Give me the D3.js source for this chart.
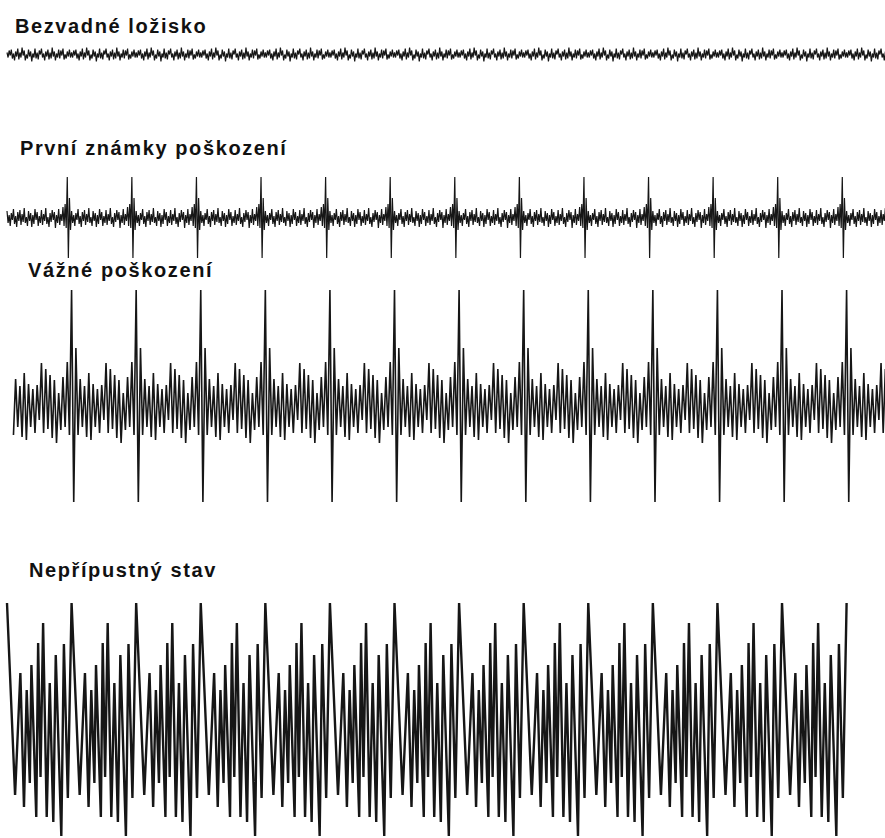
<!DOCTYPE html>
<html>
<head>
<meta charset="utf-8">
<script src="https://cdn.jsdelivr.net/npm/d3@7"></script>
<style>
  body { margin: 0; background: #fff; }
  .title { font-family: "Liberation Sans", Arial, sans-serif; font-weight: bold; font-size: 20px; letter-spacing: 1.6px; fill: #111; }
</style>
</head>
<body>
<svg id="chart" width="885" height="838"></svg>
<script>
// panel titles
const titles = ["Bezvadné ložisko", "První známky poškození", "Vážné poškození", "Nepřípustný stav"];

// one bearing revolution of each signal (panels 1-2: 60 samples, panel 3: 30 samples)
const cycle1 = [2, -3, 4, -1, 5, -4, 1, -6, 3, -2, 6, -5, 2, -3, 7, -1, 4, -6, 0, -4, 5, -2, 3, -7, 1, -3, 6, -4, 2, -5,
                4, 0, 6, -3, 1, -6, 3, -2, 5, -5, 2, -4, 7, -2, 3, -6, 1, -3, 5, -4, 4, -1, 6, -5, 0, -4, 3, -2, 5, -3];
const cycle2 = [7, -5, 3, -8, 5, -2, 9, -6, 2, -9, 6, -3, 8, -7, 4, -4, 10, -5, 1, -8, 7, -3, 5, -9, 3, -6, 9, -2, 6, -8,
                2, -5, 8, -7, 4, -3, 10, -6, 1, -9, 5, -4, 8, -2, 6, -10, 3, -5, 9, -7, 4, -3, 11, -8, 14, -10, 41, -40, 20, -12];
const cycle3 = [111, -101, 53, -34, 22, -26, 15, -36, 28, -39, 17, -26, 12, -32, 16, -19, 38, -32, 32, -28, 26, -37, 21, -42, 8, -29, 24, -26, 39, -34];

// last panel: turning points within one revolution (phase, amplitude)
const phase4 = [0, 0.125, 0.207, 0.263, 0.305, 0.353, 0.378, 0.453, 0.482, 0.519, 0.559, 0.615, 0.662, 0.717, 0.755, 0.841, 0.881, 0.942];
const cycle4 = [115, -77, 45, -89, 28, -65, 53, -99, 75, -59, 95, -99, 35, -104, 63, -118, 74, -80];

const revolutions = 13;
const revShown = 13.6; // panels 1-3 run on past the last full revolution
const samplesPerRev = [60, 60, 30];
const startRev = [0, 0, 0.1];

const svg = d3.select("#chart");

const x = d3.scaleLinear().domain([0, revolutions]).range([7, 846.6]);

// layout of the four strips
const layout = [
  { tx: 15, ty: 33, cy: 54.5, stroke: 1.2 },
  { tx: 20, ty: 155, cy: 218, stroke: 1.2 },
  { tx: 28, ty: 277, cy: 401, stroke: 1.6 },
  { tx: 29, ty: 577, cy: 718, stroke: 2.4 }
];

function tile(cycle, n, from) {
  const pts = [];
  for (let i = Math.round(from * n); i <= Math.round(revShown * n); i++) pts.push([i / n, cycle[i % n]]);
  return pts;
}

const series = [
  tile(cycle1, samplesPerRev[0], startRev[0]),
  tile(cycle2, samplesPerRev[1], startRev[1]),
  tile(cycle3, samplesPerRev[2], startRev[2])
];

const last = [];
for (let k = 0; k < revolutions; k++) {
  phase4.forEach((p, j) => last.push([k + p, cycle4[j]]));
}
last.push([revolutions, cycle4[0]]);
series.push(last);

series.forEach((data, i) => {
  const L = layout[i];
  const y = d3.scaleLinear().domain([-150, 150]).range([L.cy + 150, L.cy - 150]);

  svg.append("text")
    .attr("class", "title")
    .attr("x", L.tx)
    .attr("y", L.ty)
    .text(titles[i]);

  const line = d3.line()
    .x(d => x(d[0]))
    .y(d => y(d[1]));

  svg.append("path")
    .datum(data)
    .attr("d", line)
    .attr("fill", "none")
    .attr("stroke", "#161616")
    .attr("stroke-width", L.stroke)
    .attr("stroke-linejoin", "miter");
});
</script>
</body>
</html>
